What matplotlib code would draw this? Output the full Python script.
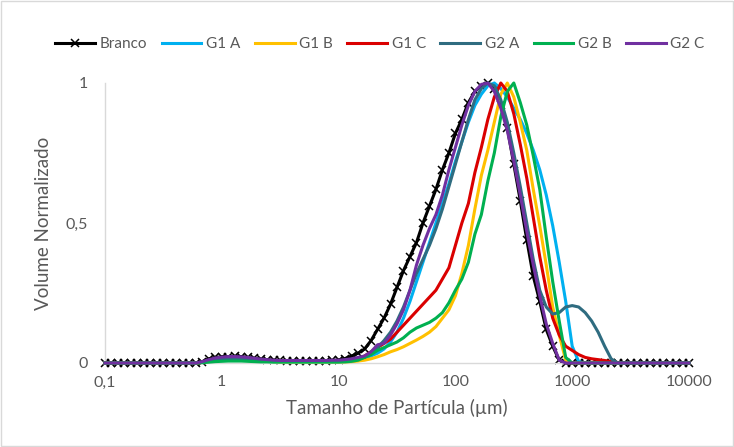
import matplotlib
matplotlib.use("Agg")
import matplotlib.pyplot as plt
from matplotlib.patches import Rectangle

plt.rcParams['font.family'] = ['Lato', 'DejaVu Sans']

# Classes de tamanho (µm)
tamanho = [
    0.1, 0.1136, 0.1292, 0.1468, 0.1668, 0.1896, 0.2154, 0.2448, 0.2783, 0.3162,
    0.3594, 0.4084, 0.4642, 0.5275, 0.5995, 0.6813, 0.7743, 0.8799,
    1.0, 1.136, 1.292, 1.468, 1.668, 1.896, 2.154, 2.448, 2.783, 3.162,
    3.594, 4.084, 4.642, 5.275, 5.995, 6.813, 7.743, 8.799,
    10.0, 11.36, 12.92, 14.68, 16.68, 18.96, 21.54, 24.48, 27.83, 31.62,
    35.94, 40.84, 46.42, 52.75, 59.95, 68.13, 77.43, 87.99,
    100.0, 113.6, 129.2, 146.8, 166.8, 189.6, 215.4, 244.8, 278.3, 316.2,
    359.4, 408.4, 464.2, 527.5, 599.5, 681.3, 774.3, 879.9,
    1000.0, 1136, 1292, 1468, 1668, 1896, 2154, 2448, 2783, 3162,
    3594, 4084, 4642, 5275, 5995, 6813, 7743, 8799, 10000.0,
]

branco = ([0.0] * 15 +
          [0.005, 0.015, 0.02, 0.022, 0.023, 0.024, 0.023, 0.02, 0.017, 0.014, 0.012,
           0.01, 0.009, 0.008, 0.008, 0.008, 0.008, 0.008, 0.008, 0.008, 0.009] +
          [0.011, 0.016, 0.025, 0.035, 0.05, 0.08, 0.12, 0.16, 0.21, 0.27, 0.33, 0.38,
           0.43, 0.50, 0.56, 0.62, 0.69, 0.75, 0.82, 0.87, 0.93, 0.97, 0.99, 1.0,
           0.98, 0.92, 0.84, 0.71, 0.58, 0.44, 0.31, 0.22, 0.12, 0.06, 0.01, 0.0] +
          [0.0] * 19)

g1_a = ([0.0] * 15 +
        [0.003, 0.008, 0.012, 0.015, 0.016, 0.016, 0.015, 0.013, 0.011, 0.009, 0.008,
         0.007, 0.006, 0.006, 0.006, 0.006, 0.006, 0.006, 0.006, 0.006, 0.007] +
        [0.008, 0.009, 0.011, 0.013, 0.018, 0.025, 0.035, 0.05, 0.075, 0.11, 0.16,
         0.22, 0.29, 0.36, 0.43, 0.5, 0.57, 0.64, 0.72, 0.79, 0.86, 0.92, 0.96, 0.99,
         1.0, 0.98, 0.95, 0.91, 0.87, 0.82, 0.76, 0.69, 0.6, 0.49, 0.36, 0.22, 0.06,
         0.005] +
        [0.0] * 17)

g1_b = ([0.0] * 15 +
        [0.002, 0.005, 0.008, 0.01, 0.011, 0.011, 0.01, 0.009, 0.008, 0.007, 0.006,
         0.005, 0.004, 0.004, 0.004, 0.004, 0.004, 0.004, 0.004, 0.004, 0.004] +
        [0.004, 0.004, 0.005, 0.007, 0.01, 0.015, 0.022, 0.03, 0.04, 0.048, 0.058,
         0.07, 0.082, 0.095, 0.11, 0.13, 0.16, 0.19, 0.24, 0.32, 0.42, 0.55, 0.67,
         0.76, 0.86, 0.96, 1.0, 0.95, 0.86, 0.76, 0.62, 0.49, 0.35, 0.2, 0.1, 0.01] +
        [0.0] * 19)

g1_c = ([0.0] * 15 +
        [0.003, 0.008, 0.012, 0.014, 0.015, 0.015, 0.014, 0.012, 0.01, 0.009, 0.008,
         0.007, 0.006, 0.006, 0.006, 0.006, 0.006, 0.006, 0.006, 0.006, 0.006] +
        [0.006, 0.008, 0.01, 0.015, 0.025, 0.04, 0.055, 0.07, 0.085, 0.11, 0.135,
         0.16, 0.185, 0.21, 0.235, 0.26, 0.3, 0.34, 0.42, 0.5, 0.57, 0.68, 0.77,
         0.87, 0.95, 1.0, 0.97, 0.89, 0.78, 0.66, 0.52, 0.38, 0.26, 0.16, 0.1, 0.06,
         0.045, 0.03, 0.02, 0.015, 0.012, 0.009, 0.005, 0.002, 0.0] +
        [0.0] * 10)

g2_a = ([0.0] * 15 +
        [0.003, 0.008, 0.012, 0.015, 0.016, 0.016, 0.015, 0.013, 0.011, 0.009, 0.008,
         0.007, 0.007, 0.007, 0.007, 0.007, 0.007, 0.007, 0.007, 0.007, 0.007] +
        [0.008, 0.01, 0.012, 0.015, 0.02, 0.035, 0.055, 0.08, 0.11, 0.15, 0.2, 0.26,
         0.32, 0.37, 0.42, 0.48, 0.55, 0.63, 0.71, 0.79, 0.87, 0.94, 0.98, 1.0, 0.99,
         0.94, 0.86, 0.75, 0.63, 0.5, 0.37, 0.26, 0.2, 0.175, 0.18, 0.2, 0.205, 0.2,
         0.18, 0.15, 0.11, 0.06, 0.015, 0.0] +
        [0.0] * 11)

g2_b = ([0.0] * 15 +
        [0.001, 0.003, 0.005, 0.006, 0.007, 0.007, 0.007, 0.006, 0.005, 0.004, 0.004,
         0.003, 0.003, 0.003, 0.003, 0.003, 0.003, 0.003, 0.003, 0.003, 0.003] +
        [0.003, 0.004, 0.006, 0.01, 0.02, 0.03, 0.045, 0.055, 0.065, 0.075, 0.09,
         0.11, 0.125, 0.135, 0.145, 0.16, 0.18, 0.215, 0.26, 0.3, 0.36, 0.46, 0.53,
         0.65, 0.75, 0.88, 0.97, 1.0, 0.93, 0.85, 0.74, 0.62, 0.45, 0.29, 0.15, 0.02,
         0.0] +
        [0.0] * 18)

g2_c = ([0.0] * 15 +
        [0.005, 0.012, 0.018, 0.021, 0.023, 0.023, 0.022, 0.02, 0.017, 0.014, 0.012,
         0.01, 0.009, 0.009, 0.009, 0.009, 0.009, 0.009, 0.009, 0.009, 0.01] +
        [0.01, 0.012, 0.015, 0.02, 0.025, 0.04, 0.065, 0.07, 0.1, 0.14, 0.19, 0.26,
         0.35, 0.42, 0.48, 0.53, 0.6, 0.69, 0.77, 0.85, 0.92, 0.97, 0.995, 1.0, 0.97,
         0.91, 0.83, 0.72, 0.6, 0.47, 0.35, 0.24, 0.14, 0.07, 0.01, 0.0] +
        [0.0] * 19)

series = [
    ("G1 A", g1_a, "#00B0F0"),
    ("G1 B", g1_b, "#FFC000"),
    ("G1 C", g1_c, "#DA0000"),
    ("G2 A", g2_a, "#2F6C80"),
    ("G2 B", g2_b, "#00B050"),
    ("G2 C", g2_c, "#7030A0"),
]

cinza = "#595959"

fig = plt.figure(figsize=(7.34, 4.47), dpi=100)
ax = fig.add_axes([105 / 734, 84 / 447, 584 / 734, 280 / 447])

ax.plot(tamanho, branco, color="black", linewidth=2.2, marker="x", markersize=5.5,
        markeredgewidth=1.1, label="Branco", clip_on=False, zorder=2)
for i, (nome, vals, cor) in enumerate(series):
    ax.plot(tamanho, vals, color=cor, linewidth=2.2, label=nome, clip_on=False,
            zorder=3 + i)

ax.set_xscale("log")
ax.set_xlim(0.1, 10000)
ax.set_ylim(0, 1)
ax.set_xticks([0.1, 1, 10, 100, 1000, 10000])
ax.set_xticklabels(["0,1", "1", "10", "100", "1000", "10000"])
ax.xaxis.set_minor_locator(matplotlib.ticker.NullLocator())
ax.set_yticks([0, 0.5, 1])
ax.set_yticklabels(["0", "0,5", "1"])
ax.tick_params(length=0, labelsize=11.5, colors=cinza)
ax.tick_params(axis="x", pad=9)
ax.tick_params(axis="y", pad=12)

for s in ["top", "right"]:
    ax.spines[s].set_visible(False)
for s in ["left", "bottom"]:
    ax.spines[s].set_color("#D9D9D9")
    ax.spines[s].set_linewidth(1.0)

ax.set_xlabel("Tamanho de Partícula (µm)", fontsize=13.5, color=cinza, labelpad=7)
ax.set_ylabel("Volume Normalizado", fontsize=13.5, color=cinza, labelpad=10)

fig.legend(loc="center", bbox_to_anchor=(380 / 734, 1 - 44 / 447), ncol=7,
           frameon=False, fontsize=11, handlelength=2.6, handletextpad=0.3,
           columnspacing=0.95, labelcolor=cinza)

# moldura da área do gráfico
fig.patches.append(Rectangle((0.002, 0.002), 0.996, 0.996, transform=fig.transFigure,
                             fill=False, edgecolor="#D9D9D9", linewidth=1.0))

fig.savefig("out.png", dpi=100)
